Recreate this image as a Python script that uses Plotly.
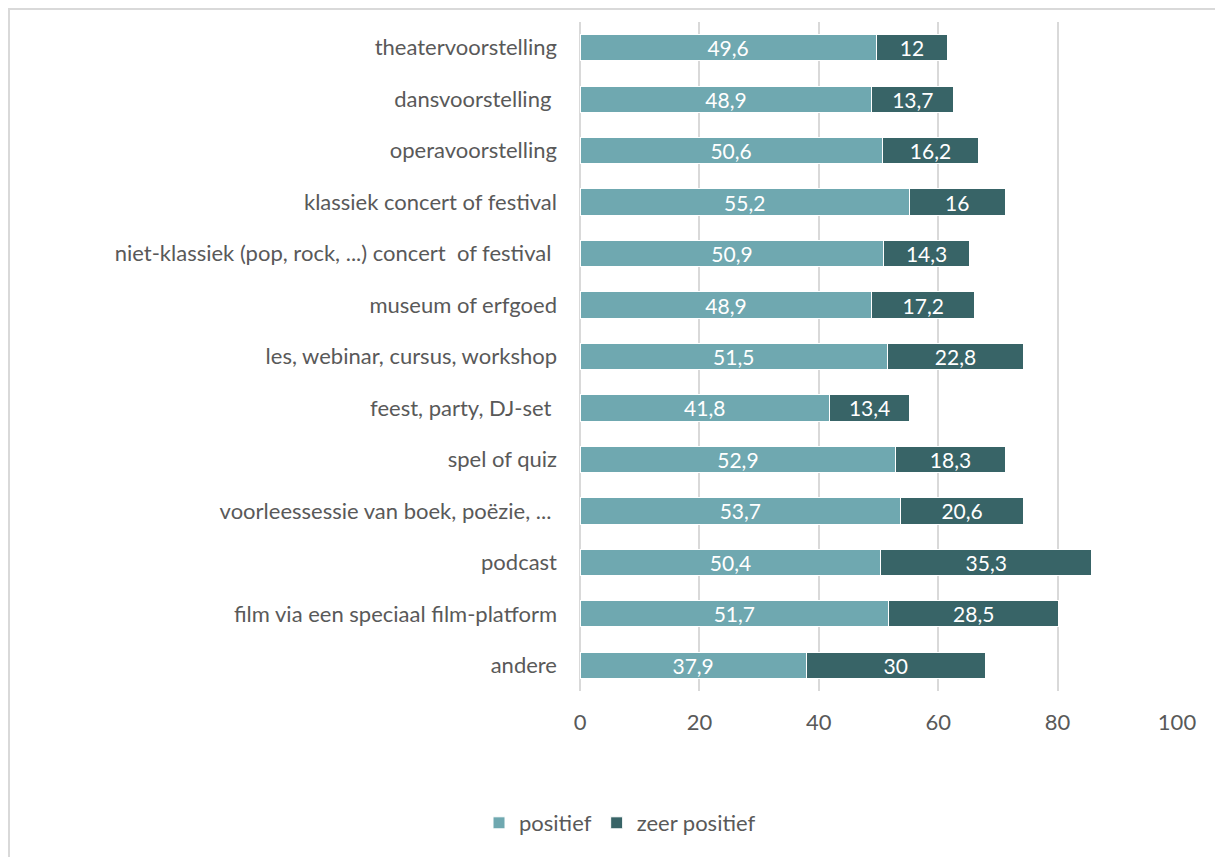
import plotly.graph_objects as go

categories = [
    "theatervoorstelling",
    "dansvoorstelling ",
    "operavoorstelling",
    "klassiek concert of festival",
    "niet-klassiek (pop, rock, ...) concert  of festival ",
    "museum of erfgoed",
    "les, webinar, cursus, workshop",
    "feest, party, DJ-set ",
    "spel of quiz",
    "voorleessessie van boek, poëzie, ... ",
    "podcast",
    "film via een speciaal film-platform",
    "andere",
]
positief = [49.6, 48.9, 50.6, 55.2, 50.9, 48.9, 51.5, 41.8, 52.9, 53.7, 50.4, 51.7, 37.9]
zeer_positief = [12, 13.7, 16.2, 16, 14.3, 17.2, 22.8, 13.4, 18.3, 20.6, 35.3, 28.5, 30]

def fmt(v):
    return (f"{v:g}").replace(".", ",")

FONT = "Lato, 'Open Sans', sans-serif"
W, H = 1215, 849
L, R, T, B = 572, 46, 14, 166
PW, PH = W - L - R, H - T - B

fig = go.Figure()
for name, vals, col in [("positief", positief, "#6FA8B0"), ("zeer positief", zeer_positief, "#386467")]:
    fig.add_trace(go.Bar(
        y=categories, x=vals, orientation="h", name=name,
        marker=dict(color=col, line=dict(color="white", width=1)),
        text=[fmt(v) for v in vals], textposition="inside", insidetextanchor="middle",
        textangle=0, constraintext="none",
        textfont=dict(color="white", size=21, family=FONT),
    ))
fig.update_layout(
    barmode="stack",
    bargap=0.49,
    width=W, height=H,
    margin=dict(l=L, r=R, t=T, b=B),
    paper_bgcolor="white", plot_bgcolor="white",
    font=dict(family=FONT, size=22, color="#595959"),
    xaxis=dict(range=[0, 100], dtick=20, showgrid=True, gridcolor="#D9D9D9", gridwidth=2,
               zeroline=True, zerolinecolor="#D9D9D9", zerolinewidth=2,
               showline=False, ticks="", tickfont=dict(size=22, color="#595959"),
               ticklabelstandoff=16),
    yaxis=dict(autorange="reversed", showgrid=False, showline=False, ticks="",
               tickfont=dict(size=22, color="#595959"), ticklabelstandoff=22),
    legend=dict(orientation="h", x=(620 - 580) / PW, xanchor="center", y=-132 / PH, yanchor="middle",
                font=dict(size=22, color="#595959"), traceorder="normal"),
    shapes=[dict(type="rect", xref="paper", yref="paper",
                 x0=(-L + 1) / PW, x1=1.2, y0=-0.4, y1=(PH + T - 1) / PH,
                 line=dict(color="#D9D9D9", width=2), fillcolor="rgba(0,0,0,0)", layer="below")],
    showlegend=True,
)
fig.write_html("out.html")
